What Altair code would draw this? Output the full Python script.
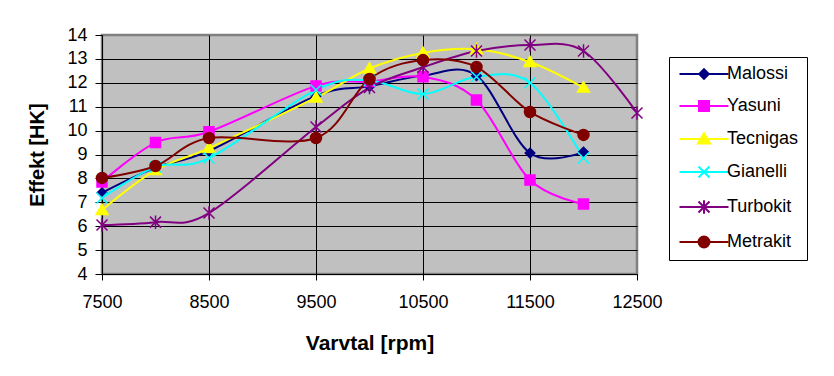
import altair as alt
import pandas as pd

series = ["Malossi", "Yasuni", "Tecnigas", "Gianelli", "Turbokit", "Metrakit"]
colors = ["#000080", "#FF00FF", "#FFFF00", "#00FFFF", "#800080", "#800000"]

rpm_main = [7500, 8000, 8500, 9500, 10000, 10500, 11000, 11500, 12000]
rpm_turbo = [7500, 8000, 8500, 9500, 10000, 10500, 11000, 11500, 12000, 12500]

malossi = [7.4, 8.45, 9.15, 11.45, 11.85, 12.3, 12.3, 9.06, 9.1]
yasuni = [7.85, 9.5, 9.95, 11.87, 12.05, 12.25, 11.28, 7.93, 6.93]
tecnigas = [6.68, 8.35, 9.27, 11.38, 12.6, 13.25, 13.4, 12.87, 11.8]
gianelli = [7.18, 8.48, 8.85, 11.7, 12.1, 11.53, 12.25, 12.0, 8.85]
turbokit = [6.05, 6.17, 6.55, 10.15, 11.8, 12.65, 13.33, 13.58, 13.33, 10.74]
metrakit = [8.02, 8.52, 9.69, 9.69, 12.16, 12.95, 12.66, 10.78, 9.82]

x_ticks = [7500, 8500, 9500, 10500, 11500, 12500]
y_ticks = [4, 5, 6, 7, 8, 9, 10, 11, 12, 13, 14]

# marker shapes (custom paths)
marker_paths = [
    "M0,-0.95L0.95,0L0,0.95L-0.95,0Z",                      # diamond
    "M-1,-1H1V1H-1Z",                                       # square
    "M0,-1.15L1.2,0.9L-1.2,0.9Z",                           # triangle
    "M-1.1,-1.1L1.1,1.1M-1.1,1.1L1.1,-1.1",                 # x
    "M-1.1,-1.1L1.1,1.1M-1.1,1.1L1.1,-1.1M0,-1.35V1.35",    # asterisk
    "M-1.1,0A1.1,1.1,0,1,0,1.1,0A1.1,1.1,0,1,0,-1.1,0Z",    # circle
]
legend_paths = ["M-4.9,0H4.9" + p for p in marker_paths]

values = {
    "Malossi": (rpm_main, malossi),
    "Yasuni": (rpm_main, yasuni),
    "Tecnigas": (rpm_main, tecnigas),
    "Gianelli": (rpm_main, gianelli),
    "Turbokit": (rpm_turbo, turbokit),
    "Metrakit": (rpm_main, metrakit),
}
rows = []
for s in series:
    xs, ys = values[s]
    for xv, yv in zip(xs, ys):
        rows.append({"Serie": s, "rpm": xv, "hk": yv})
df = pd.DataFrame(rows)

FONT = "Liberation Sans"
W, H = 535, 239

x_enc = alt.X(
    "rpm:Q",
    scale=alt.Scale(domain=[7500, 12500], nice=False, zero=False),
    axis=alt.Axis(
        values=x_ticks, format="d", title="Varvtal [rpm]",
        labelFont=FONT, labelFontSize=18, labelColor="black", labelPadding=13,
        labelFlush=False, labelOverlap=False,
        titleFont=FONT, titleFontSize=21, titleFontWeight="bold", titleColor="black",
        titleX=W / 2, titleY=69, titleBaseline="middle", titleAlign="center",
        tickSize=6, tickColor="black", tickWidth=1,
        domainColor="black", domainWidth=1,
        gridColor="black", gridWidth=1,
        gridOpacity=alt.condition("datum.value == 12500", alt.value(0), alt.value(1)),
    ),
)
y_enc = alt.Y(
    "hk:Q",
    scale=alt.Scale(domain=[4, 14], nice=False, zero=False),
    axis=alt.Axis(
        values=y_ticks, format="d", title="Effekt [HK]",
        labelFont=FONT, labelFontSize=18, labelColor="black", labelPadding=8,
        labelFlush=False, labelOverlap=False,
        titleFont=FONT, titleFontSize=20, titleFontWeight="bold", titleColor="black",
        titleX=-65, titleY=H / 2, titleAngle=-90, titleBaseline="middle", titleAlign="center",
        tickSize=7, tickColor="black", tickWidth=1,
        domainColor="black", domainWidth=1,
        gridColor="black", gridWidth=1,
        gridOpacity=alt.condition("datum.value == 14", alt.value(0), alt.value(1)),
    ),
)

lines = alt.Chart(df).mark_line(interpolate="cardinal", tension=0, strokeWidth=2).encode(
    x=x_enc, y=y_enc,
    color=alt.Color("Serie:N", scale=alt.Scale(domain=series, range=colors), legend=None),
    detail="Serie:N",
    order="rpm:Q",
)

points = alt.Chart(df).mark_point(filled=True, size=100, opacity=1, strokeWidth=1.5).encode(
    x=x_enc, y=y_enc,
    fill=alt.Fill("Serie:N", scale=alt.Scale(domain=series, range=colors), legend=None),
    stroke=alt.Stroke("Serie:N", scale=alt.Scale(domain=series, range=colors), legend=None),
    shape=alt.Shape("Serie:N", scale=alt.Scale(domain=series, range=marker_paths), legend=None),
)

leg = dict(
    orient="none", legendX=567, legendY=22, title=None,
    padding=8, strokeColor="black", fillColor="white",
    labelFont=FONT, labelFontSize=18, labelColor="black", labelLimit=300,
    symbolOffset=18, labelOffset=14, rowPadding=14,
    symbolSize=100, symbolStrokeWidth=2,
)
legend_layer = alt.Chart(df).transform_filter("false").mark_point(
    filled=True, size=100, opacity=1, strokeWidth=2
).encode(
    x=x_enc, y=y_enc,
    fill=alt.Fill("Serie:N", scale=alt.Scale(domain=series, range=colors), legend=alt.Legend(**leg)),
    stroke=alt.Stroke("Serie:N", scale=alt.Scale(domain=series, range=colors), legend=alt.Legend(**leg)),
    shape=alt.Shape("Serie:N", scale=alt.Scale(domain=series, range=legend_paths), legend=alt.Legend(**leg)),
)

chart = alt.layer(lines, points, legend_layer).resolve_scale(
    fill="independent", stroke="independent", shape="independent"
).properties(
    width=W, height=H,
    autosize=alt.AutoSizeParams(type="none"),
    padding={"left": 94, "top": 27, "right": 189, "bottom": 94},
    background="white",
).configure_view(
    fill="#C0C0C0", stroke="#808080", strokeWidth=2.5,
)

chart.save("out.html", embed_options={"renderer": "svg", "actions": False})
